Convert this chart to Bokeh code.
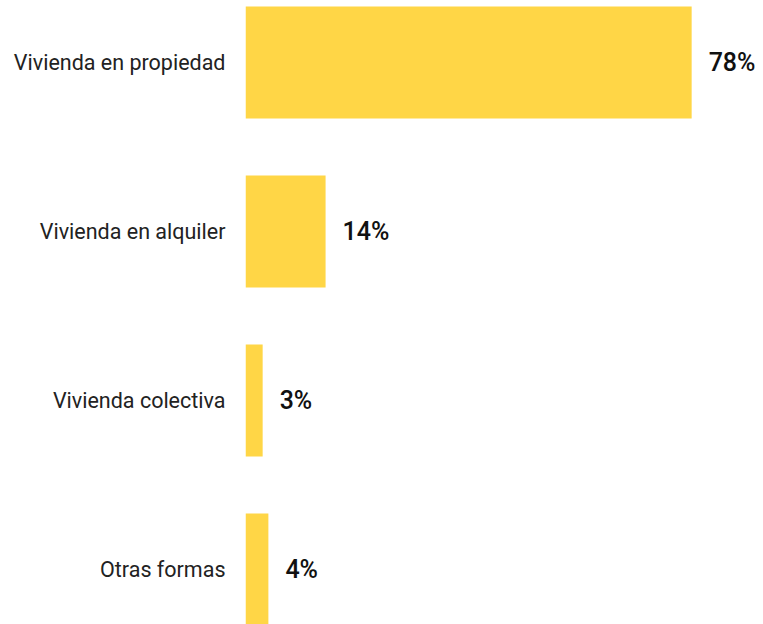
from bokeh.plotting import figure
from bokeh.models import ColumnDataSource, FixedTicker, Range1d
from bokeh.core.properties import value
from bokeh.embed import file_html
from bokeh.resources import INLINE

categories = ["Vivienda en propiedad", "Vivienda en alquiler", "Vivienda colectiva", "Otras formas"]
values = [78, 14, 3, 4]
value_labels = ["78%", "14%", "3%", "4%"]

pos = list(range(len(categories)))
src = ColumnDataSource(dict(y=pos, v=values, lab=value_labels))

p = figure(width=763, height=624, output_backend="svg", toolbar_location=None,
           x_range=Range1d(0, 90.56), y_range=Range1d(3.3254, -0.3669),
           min_border_left=245, min_border_right=0, min_border_top=0, min_border_bottom=0)
p.outline_line_color = None
p.grid.visible = False
p.xaxis.visible = False

p.hbar(y="y", right="v", left=0, height=0.663, source=src, color="#FFD646", line_color=None)
p.text(x="v", y="y", text="lab", source=src, x_offset=17, text_align="left",
       text_baseline="middle", text_font=value("Roboto Medium"), text_font_size="25px",
       text_color="#111111")

ax = p.yaxis[0]
ax.ticker = FixedTicker(ticks=pos)
ax.major_label_overrides = {i: c for i, c in enumerate(categories)}
ax.axis_line_color = None
ax.major_tick_line_color = None
ax.minor_tick_line_color = None
ax.major_tick_out = 0
ax.major_tick_in = 0
ax.major_label_standoff = 20
ax.major_label_text_font = "Roboto"
ax.major_label_text_font_size = "21.5px"
ax.major_label_text_color = "#222222"

open("out.html", "w").write(file_html(p, INLINE))
